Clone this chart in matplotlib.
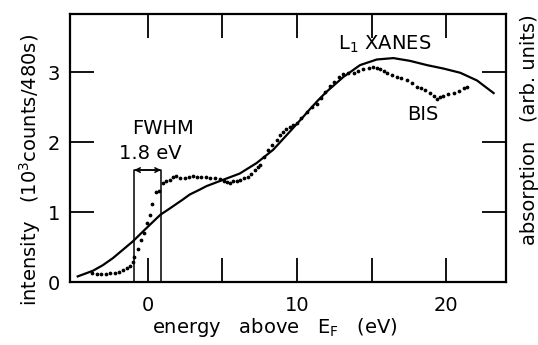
import matplotlib
matplotlib.use("Agg")
import matplotlib.pyplot as plt

# L1 XANES (solid line)
xanes_e = [-4.68, -3.67, -3.0, -2.33, -1.66, -0.99, -0.32, 0.36, 0.85, 1.48, 2.37, 2.82, 3.49,
           3.94, 5.05, 6.17, 7.3, 8.41, 9.53, 10.42, 10.87, 11.43, 11.99, 13.11, 14.23, 15.35,
           16.46, 17.58, 18.7, 19.82, 20.94, 22.06, 23.17]
xanes_i = [0.08, 0.16, 0.24, 0.34, 0.46, 0.58, 0.72, 0.86, 0.96, 1.05, 1.18, 1.25, 1.32,
           1.37, 1.46, 1.55, 1.70, 1.89, 2.15, 2.36, 2.47, 2.60, 2.72, 2.93, 3.10, 3.18,
           3.20, 3.16, 3.10, 3.05, 2.99, 2.88, 2.70]

# BIS (dotted)
bis_e = [-3.7, -3.4, -3.1, -2.8, -2.5, -2.2, -1.9, -1.66, -1.4, -1.21, -0.95, -0.88, -0.65,
         -0.45, -0.27, -0.05, 0.13, 0.31, 0.54, 0.76, 1.03, 1.25, 1.48, 1.7, 1.92, 2.2, 2.48,
         2.75, 3.04, 3.3, 3.6, 3.94, 4.2, 4.5, 4.83, 5.1, 5.3, 5.5, 5.75, 6.0, 6.17, 6.45,
         6.73, 6.95, 7.18, 7.4, 7.56, 7.8, 8.05, 8.3, 8.64, 8.85, 9.08, 9.3, 9.53, 9.75, 9.98,
         10.3, 10.65, 11.0, 11.32, 11.6, 11.9, 12.2, 12.5, 12.8, 13.1, 13.45, 13.8, 14.1,
         14.45, 14.8, 15.1, 15.35, 15.57, 15.8, 16.0, 16.35, 16.7, 17.0, 17.36, 17.7, 18.03,
         18.3, 18.6, 18.9, 19.15, 19.4, 19.6, 19.8, 20.15, 20.5, 20.85, 21.16, 21.4]
bis_i = [0.13, 0.12, 0.12, 0.12, 0.13, 0.13, 0.15, 0.17, 0.20, 0.23, 0.28, 0.36, 0.47,
         0.60, 0.70, 0.85, 0.96, 1.11, 1.28, 1.30, 1.41, 1.44, 1.46, 1.50, 1.51, 1.49, 1.48,
         1.50, 1.51, 1.50, 1.50, 1.50, 1.49, 1.48, 1.47, 1.45, 1.43, 1.42, 1.44, 1.45, 1.46,
         1.48, 1.50, 1.55, 1.60, 1.64, 1.67, 1.78, 1.88, 1.96, 2.03, 2.10, 2.15, 2.18, 2.21,
         2.24, 2.27, 2.35, 2.43, 2.50, 2.55, 2.63, 2.72, 2.80, 2.86, 2.93, 2.97, 2.98, 2.98,
         3.01, 3.04, 3.06, 3.07, 3.06, 3.04, 3.02, 2.99, 2.96, 2.93, 2.91, 2.89, 2.84, 2.79,
         2.77, 2.74, 2.70, 2.66, 2.62, 2.64, 2.66, 2.68, 2.70, 2.73, 2.77, 2.79]

x_ticks = [0, 10, 20]
x_minor = [5, 15]
y_ticks = [0, 1, 2, 3]

fwhm_lo, fwhm_hi, fwhm_top = -0.9, 0.9, 1.6

FS = 14
fig = plt.figure(figsize=(5.38, 3.45), dpi=100)
ax = fig.add_axes([0.130, 0.1826, 0.8105, 0.7768])
ax.plot(xanes_e, xanes_i, color="black", lw=1.6, solid_joinstyle="round")
ax.plot(bis_e, bis_i, linestyle="none", marker="o", ms=1.7, color="black")

# FWHM box
ax.plot([fwhm_lo, fwhm_lo, fwhm_hi, fwhm_hi], [0, fwhm_top, fwhm_top, 0], color="black", lw=1.1)
ax.annotate("", xy=(fwhm_lo, fwhm_top), xytext=(fwhm_hi, fwhm_top),
            arrowprops=dict(arrowstyle="<->", color="black", lw=1.1, shrinkA=0, shrinkB=0,
                            mutation_scale=8))
ax.text(1.04, 2.2, "FWHM", ha="center", va="center", fontsize=FS)
ax.text(0.17, 1.84, "1.8 eV", ha="center", va="center", fontsize=FS)
ax.text(12.75, 3.39, "L$_1$ XANES", ha="left", va="center", fontsize=FS)
ax.text(17.4, 2.39, "BIS", ha="left", va="center", fontsize=FS)

ax.set_xlim(-5.2, 24.0)
ax.set_ylim(0, 3.83)
ax.set_xticks(x_ticks)
ax.set_xticks(x_minor, minor=True)
ax.set_yticks(y_ticks)
ax.tick_params(which="both", direction="in", length=17, width=1.3, top=True, right=True,
               labelsize=FS)
ax.tick_params(axis="x", pad=10)
ax.tick_params(axis="y", pad=7)
for s in ax.spines.values():
    s.set_linewidth(1.6)

fig.text(0.056, 0.507, "intensity   (10$^3$counts/480s)", rotation=90, ha="center",
         va="center", fontsize=FS)
fig.text(0.985, 0.623, "absorption   (arb. units)", rotation=90, ha="center", va="center",
         fontsize=FS)
fig.text(0.51, 0.05, "energy   above   E$_\\mathrm{F}$   (eV)", ha="center", va="center",
         fontsize=FS)

fig.savefig("out.png", dpi=100)
